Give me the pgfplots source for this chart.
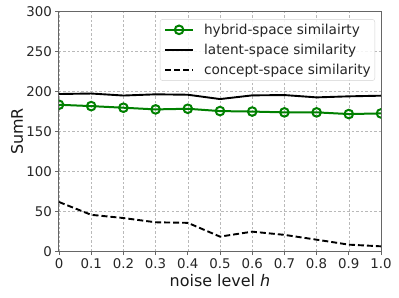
\documentclass[border=0pt]{standalone}
\usepackage{pgfplots}
\pgfplotsset{compat=1.18}
\usepackage{fontspec}
\setmainfont{DejaVu Sans}
\definecolor{mplgreen}{rgb}{0,0.5,0}
\begin{document}
\begin{tikzpicture}
\begin{axis}[
  at={(0,0)}, anchor=south west,
  scale only axis, width=322bp, height=240.5bp,
  xmin=0, xmax=1, ymin=0, ymax=300,
  xtick={0,0.1,0.2,0.3,0.4,0.5,0.6,0.7,0.8,0.9,1.0},
  xticklabels={0,0.1,0.2,0.3,0.4,0.5,0.6,0.7,0.8,0.9,1.0},
  ytick={0,50,100,150,200,250,300},
  /pgf/number format/assume math mode=true,
  tick label style={font=\fontsize{13.4}{15}\selectfont, text=black!85},
  tick align=outside, tick pos=left,
  major tick length=3.5bp,
  every tick/.style={black!60, line width=0.8bp},
  axis line style={black!60, line width=1bp},
  grid=major,
  major grid style={gray!55, line width=0.6bp, dash pattern=on 2.5bp off 2bp},
  xlabel={noise level \textit{h}},
  ylabel={SumR},
  label style={font=\fontsize{16}{18}\selectfont, text=black!90},
  xlabel style={at={(axis description cs:0.5,-0.1455)}, anchor=base},
  ylabel style={at={(axis description cs:-0.1118,0.5)}, anchor=base},
  clip marker paths=true,
  legend style={at={(1,1)}, anchor=north east, xshift=-6bp, yshift=-8bp,
    draw=black!18, rounded corners=2.5bp, fill=white, fill opacity=0.85, text opacity=1,
    font=\fontsize{13.7}{15}\selectfont, text=black!85,
    nodes={inner sep=0bp},
    inner xsep=4bp, inner ysep=4.5bp, row sep=8.3bp,
    /tikz/every odd column/.append style={column sep=10bp}},
  legend cell align=left,
  legend image code/.code={\draw[mark repeat=2,mark phase=2] plot coordinates {(0bp,0bp) (14bp,0bp) (28bp,0bp)};},
]
\addplot[mplgreen, line width=2bp, mark=o, mark size=4.3bp,
  mark options={fill=white, line width=2bp, solid}]
  coordinates {(0,183.3) (0.1,181.6) (0.2,179.6) (0.3,177.5) (0.4,178.3) (0.5,175.4) (0.6,174.8) (0.7,173.8) (0.8,173.8) (0.9,171.7) (1.0,172.5)};
\addlegendentry{hybrid-space similairty}
\addplot[black, line width=1.9bp]
  coordinates {(0,196.7) (0.1,197.3) (0.2,194.8) (0.3,196.3) (0.4,195.8) (0.5,190.4) (0.6,195.0) (0.7,195.4) (0.8,192.5) (0.9,193.8) (1.0,194.6)};
\addlegendentry{latent-space similarity}
\addplot[black, line width=1.9bp, dash pattern=on 6bp off 3bp]
  coordinates {(0,62) (0.1,46) (0.2,42) (0.3,36.7) (0.4,36) (0.5,18.8) (0.6,25) (0.7,21) (0.8,15) (0.9,8.8) (1.0,6.7)};
\addlegendentry{concept-space similarity}
\end{axis}
\pgfresetboundingbox
\path (-59bp,-46.3bp) rectangle (340bp,251.7bp);
\end{tikzpicture}
\end{document}
